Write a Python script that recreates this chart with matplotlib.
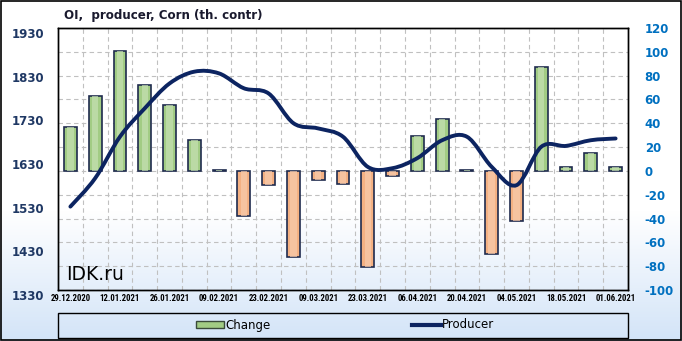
import matplotlib.pyplot as plt
import numpy as np
from matplotlib import font_manager
from matplotlib.path import Path
from matplotlib.patches import PathPatch, Rectangle
from matplotlib.lines import Line2D
from matplotlib.colors import LinearSegmentedColormap

dates = ['29.12.2020', '05.01.2021', '12.01.2021', '19.01.2021', '26.01.2021',
         '02.02.2021', '09.02.2021', '16.02.2021', '23.02.2021', '02.03.2021',
         '09.03.2021', '16.03.2021', '23.03.2021', '30.03.2021', '06.04.2021',
         '13.04.2021', '20.04.2021', '27.04.2021', '04.05.2021', '11.05.2021',
         '18.05.2021', '25.05.2021', '01.06.2021']
change = [37, 63, 101, 72, 55, 26, 0.6, -38, -12, -72, -8, -11, -81, -4,
          29, 44, 1, -70, -42, 87, 3, 15, 3.5]
producer = [1521, 1586, 1681, 1746, 1803, 1830, 1826, 1792, 1780, 1712, 1700,
            1681, 1612, 1609, 1632, 1673, 1681, 1612, 1570, 1658, 1660, 1673, 1677]

left_ticks = [1330, 1430, 1530, 1630, 1730, 1830, 1930]
right_ticks = list(range(-100, 121, 20))

# narrow font for the date labels, if there is one
names = {f.name for f in font_manager.fontManager.ttflist}
narrow = None
for cand in ['Liberation Sans Narrow', 'DejaVu Sans Condensed', 'Roboto Condensed']:
    if cand in names:
        narrow = cand
        break
if narrow:
    date_font = dict(family=[narrow, 'DejaVu Sans'], fontsize=6.3)
else:
    date_font = dict(family=['DejaVu Sans'], fontsize=5.5)

fig = plt.figure(figsize=(6.82, 3.41), dpi=100)

# background gradient white -> light blue
bg = fig.add_axes([0, 0, 1, 1], zorder=-10)
cmap = LinearSegmentedColormap.from_list('bg', [(0, '#ffffff'), (0.62, '#ffffff'), (1, '#d3e4f8')])
grad = np.linspace(0, 1, 256).reshape(-1, 1)
bg.imshow(grad, aspect='auto', cmap=cmap, extent=[0, 1, 0, 1], origin='upper')
bg.set_axis_off()
bg.add_patch(Rectangle((0.001, 0.002), 0.997, 0.995, fill=False, ec='black', lw=1.2,
                       transform=bg.transAxes))

L, R, T, B = 58, 628, 28, 290
ax = fig.add_axes([L / 682, 1 - B / 341, (R - L) / 682, (B - T) / 341])
ax.patch.set_alpha(0)
ax2 = ax.twinx()

x = np.arange(len(dates))

# bars on right axis
ax2.set_ylim(-100, 120)
cols = ['#a2cc84' if v >= 0 else '#f4b183' for v in change]
ax2.bar(x, change, width=0.52, color=cols, edgecolor='#1f2b4e', linewidth=1.2, zorder=3)
ax2.bar(x, change, width=0.26, color=['#c6e0b4' if v >= 0 else '#f8cbad' for v in change],
        linewidth=0, zorder=3.5, alpha=0.7)
ax2.set_yticks(right_ticks)
ax2.set_yticklabels([str(t) for t in right_ticks], color='#0070c0', fontweight='bold', fontsize=8.5)
ax2.tick_params(axis='y', length=0, pad=12)
for v in right_ticks:
    ax2.axhline(v, color='#c0c0c0', lw=0.8, ls=(0, (4, 3)), zorder=0)

# producer line on left axis, smooth through the points
ax.set_ylim(1330, 1930)
ax.set_xlim(-0.5, len(dates) - 0.5)
p = np.array(producer, dtype=float)
verts = [(x[0], p[0])]
codes = [Path.MOVETO]
n = len(p)
for i in range(n - 1):
    p0 = p[i - 1] if i > 0 else p[i]
    p3 = p[i + 2] if i + 2 < n else p[i + 1]
    x0 = x[i - 1] if i > 0 else x[i]
    x3 = x[i + 2] if i + 2 < n else x[i + 1]
    c1 = (x[i] + (x[i + 1] - x0) / 6, p[i] + (p[i + 1] - p0) / 6)
    c2 = (x[i + 1] - (x3 - x[i]) / 6, p[i + 1] - (p3 - p[i]) / 6)
    verts += [c1, c2, (x[i + 1], p[i + 1])]
    codes += [Path.CURVE4] * 3
ax.add_patch(PathPatch(Path(verts, codes), fill=False, ec='#0c2461', lw=2.8,
                       capstyle='round', zorder=5))
ax.set_zorder(ax2.get_zorder() + 1)
ax.set_yticks(left_ticks)
ax.set_yticklabels([str(t) for t in left_ticks], color='#1f3864', fontweight='bold', fontsize=8.5)
ax.tick_params(axis='y', length=0, pad=10)
for t in ax.get_yticklabels():
    t.set_va('top')

ax.set_xticks(x[::2])
ax.set_xticklabels(dates[::2], fontweight='bold', **date_font)
ax.tick_params(axis='x', length=0, pad=3)
for xv in np.arange(0.5, len(dates) - 0.5, 1):
    ax2.axvline(xv, color='#c0c0c0', lw=0.8, ls=(0, (4, 3)), zorder=0)

for a in (ax, ax2):
    for s in a.spines.values():
        s.set_color('black')
        s.set_linewidth(1.0)

ax.text(0.015, 0.04, 'IDK.ru', transform=ax.transAxes, fontsize=13.5,
        color='black', zorder=6)

fig.text(64 / 682, 1 - 15 / 341, 'OI,  producer, Corn (th. contr)', fontsize=8.6,
         fontweight='bold', color='#1a1a2e', va='center', ha='left')

# legend
box = Rectangle((L / 682, 1 - 338 / 341), (R - L) / 682, 25.5 / 341, transform=fig.transFigure,
                fill=False, ec='black', lw=1.0)
fig.patches.append(box)
handles = [Rectangle((0, 0), 1, 1, fc='#a2cc84', ec='#3a4a3a', lw=1.0),
           Line2D([0], [0], color='#0c2461', lw=3)]
fig.legend(handles, ['Change', 'Producer'], loc='center',
           bbox_to_anchor=((L + R) / 2 / 682 + 0.003, 1 - 325 / 341), ncol=2, frameon=False,
           fontsize=8.5, columnspacing=12.0, handlelength=2.4, handletextpad=0.1,
           handleheight=0.6)

fig.savefig('out.png', dpi=100)
